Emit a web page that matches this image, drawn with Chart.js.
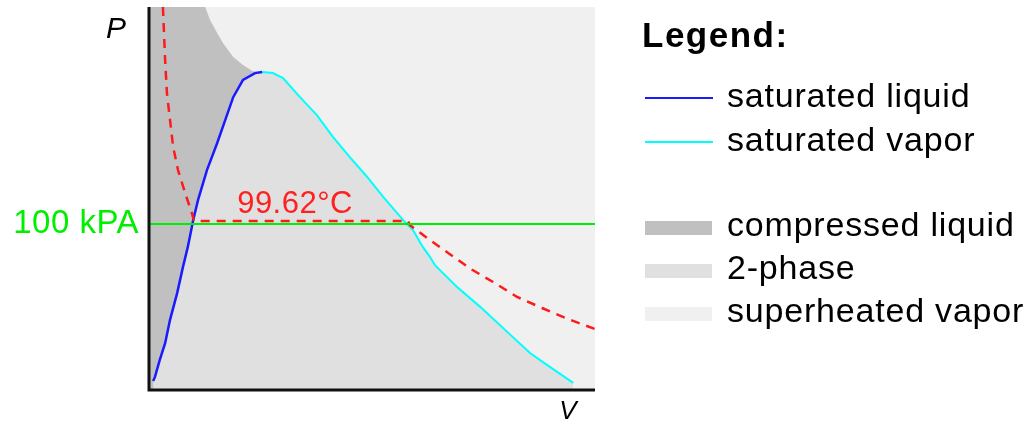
<!DOCTYPE html>
<html>
<head>
<meta charset="utf-8">
<script src="https://cdn.jsdelivr.net/npm/chart.js@4"></script>
<style>
  html, body { margin: 0; padding: 0; background: #ffffff; }
  canvas { display: block; }
</style>
</head>
<body>
<canvas id="pv-chart" width="1035" height="425"></canvas>
<script>
// P-v diagram of water, axes in relative units (0..100)
const liquidV = [0.7, 1.1, 2.2, 3.4, 4.5, 6.1, 7.4, 8.5, 9.4, 9.7, 10.8, 12.8, 15.1, 16.9, 18.7, 20.9, 23.6, 25.2];
const liquidP = [2.1, 3.1, 7.6, 12.0, 18.1, 25.1, 31.9, 37.2, 42.4, 44.2, 49.5, 57.3, 64.4, 70.4, 76.4, 80.9, 82.7, 83.0];

const vaporV = [25.2, 27.6, 29.9, 33.7, 37.5, 41.1, 44.9, 48.8, 52.4, 55.5, 57.3, 59.1, 61.3, 62.9, 64.0, 65.6, 69.0, 74.2, 79.3, 85.4, 89.2, 95.1];
const vaporP = [83.0, 82.7, 81.4, 76.4, 71.7, 66.0, 60.7, 55.5, 50.3, 46.1, 43.7, 41.6, 37.2, 34.6, 32.5, 30.6, 26.7, 21.5, 16.0, 9.4, 6.3, 1.6];

// upper edge of the compressed liquid region
const compressedV = [0, 12.4, 13.5, 15.1, 16.4, 18.7, 20.9, 23.1, 25.2];
const compressedP = [100, 100, 96.6, 93.2, 90.6, 86.9, 84.8, 83.2, 83.0];

// isotherm at 99.62 C
const isoV = [2.9, 3.4, 3.8, 4.5, 5.2, 6.3, 7.9, 9.4, 9.9, 58.0, 58.4, 62.9, 67.0, 72.4, 77.1, 82.5, 88.1, 93.3, 100];
const isoP = [100, 86.1, 77.5, 70.4, 63.4, 57.3, 51.3, 46.1, 44.0, 44.0, 42.9, 39.0, 35.6, 31.2, 28.0, 24.1, 21.2, 18.6, 15.7];

const pressureV = [0, 100];
const pressureP = [43.2, 43.2];

const isoLabel = "99.62°C";
const pressureLabel = "100 kPA";

const legendLines = [
  { label: "saturated liquid", color: "#1a1aff" },
  { label: "saturated vapor", color: "#00ffff" }
];
const legendAreas = [
  { label: "compressed liquid", color: "#c0c0c0" },
  { label: "2-phase", color: "#e0e0e0" },
  { label: "superheated vapor", color: "#f0f0f0" }
];

function toPoints(xs, ys) {
  return xs.map(function (x, i) { return { x: x, y: ys[i] }; });
}

const FONT = '"Liberation Sans", Arial, sans-serif';

const backgroundPlugin = {
  id: "plotBackground",
  beforeDraw: function (chart) {
    const ctx = chart.ctx;
    const a = chart.chartArea;
    ctx.save();
    ctx.fillStyle = "#ffffff";
    ctx.fillRect(0, 0, chart.width, chart.height);
    ctx.fillStyle = "#f0f0f0";
    ctx.fillRect(a.left, a.top, a.right - a.left, a.bottom - a.top);
    ctx.restore();
  }
};

const decorPlugin = {
  id: "decor",
  afterDraw: function (chart) {
    const ctx = chart.ctx;
    const a = chart.chartArea;
    const xs = chart.scales.x;
    const ys = chart.scales.y;
    ctx.save();

    // axes
    ctx.strokeStyle = "#111111";
    ctx.lineWidth = 3;
    ctx.beginPath();
    ctx.moveTo(a.left - 1, a.top);
    ctx.lineTo(a.left - 1, a.bottom + 1);
    ctx.lineTo(a.right, a.bottom + 1);
    ctx.stroke();

    // axis names
    ctx.fillStyle = "#000000";
    ctx.font = "italic 30px " + FONT;
    ctx.textAlign = "center";
    ctx.textBaseline = "middle";
    ctx.fillText("P", 116, 30);
    ctx.font = "italic 26px " + FONT;
    ctx.fillText("V", 568, 412);

    // pressure label
    ctx.fillStyle = "#00ee00";
    ctx.font = "33px " + FONT;
    ctx.letterSpacing = "0.5px";
    ctx.textAlign = "right";
    ctx.textBaseline = "alphabetic";
    ctx.fillText(pressureLabel, 139, ys.getPixelForValue(pressureP[0]) + 9);

    // isotherm label
    ctx.fillStyle = "#ff2020";
    ctx.font = "31px " + FONT;
    ctx.textAlign = "center";
    ctx.fillText(isoLabel, xs.getPixelForValue(32.6), ys.getPixelForValue(46.1));

    // legend
    ctx.fillStyle = "#000000";
    ctx.textAlign = "left";
    ctx.font = "bold 35px " + FONT;
    ctx.letterSpacing = "1.5px";
    ctx.fillText("Legend:", 642, 47);

    ctx.font = "34px " + FONT;
    ctx.letterSpacing = "0.8px";
    ctx.textBaseline = "middle";
    legendLines.forEach(function (item, i) {
      const y = 98 + i * 44;
      ctx.strokeStyle = item.color;
      ctx.lineWidth = 2;
      ctx.beginPath();
      ctx.moveTo(645, y);
      ctx.lineTo(713, y);
      ctx.stroke();
      ctx.fillStyle = "#000000";
      ctx.fillText(item.label, 727, y);
    });
    legendAreas.forEach(function (item, i) {
      const y = 228 + i * 43;
      ctx.fillStyle = item.color;
      ctx.fillRect(645, y - 7, 67, 14);
      ctx.fillStyle = "#000000";
      ctx.fillText(item.label, 727, y - 1);
    });

    ctx.restore();
  }
};

const config = {
  type: "line",
  data: {
    datasets: [
      {
        label: "pressure",
        data: toPoints(pressureV, pressureP),
        borderColor: "#00ee00",
        borderWidth: 2,
        fill: false,
        order: 0
      },
      {
        label: "isotherm",
        data: toPoints(isoV, isoP),
        borderColor: "#ff1a1a",
        borderWidth: 2.5,
        borderDash: [9, 7],
        fill: false,
        order: 1
      },
      {
        label: "saturated liquid",
        data: toPoints(liquidV, liquidP),
        borderColor: "#1a1aff",
        borderWidth: 2.5,
        fill: false,
        order: 2
      },
      {
        label: "saturated vapor",
        data: toPoints(vaporV, vaporP),
        borderColor: "#00ffff",
        borderWidth: 2,
        fill: false,
        order: 3
      },
      {
        label: "2-phase",
        data: toPoints(liquidV.concat(vaporV), liquidP.concat(vaporP)),
        borderWidth: 0,
        borderColor: "rgba(0,0,0,0)",
        backgroundColor: "#e0e0e0",
        fill: "origin",
        order: 4
      },
      {
        label: "compressed liquid",
        data: toPoints(compressedV, compressedP),
        borderWidth: 0,
        borderColor: "rgba(0,0,0,0)",
        backgroundColor: "#c0c0c0",
        fill: "origin",
        order: 5
      }
    ]
  },
  options: {
    responsive: false,
    animation: false,
    devicePixelRatio: 1,
    layout: {
      padding: { left: 150, right: 440, top: 7, bottom: 36 }
    },
    elements: {
      point: { radius: 0, hoverRadius: 0 },
      line: { tension: 0 }
    },
    plugins: {
      legend: { display: false },
      tooltip: { enabled: false }
    },
    scales: {
      x: { type: "linear", min: 0, max: 100, display: false },
      y: { type: "linear", min: 0, max: 100, display: false }
    }
  },
  plugins: [backgroundPlugin, decorPlugin]
};

new Chart(document.getElementById("pv-chart"), config);
</script>
</body>
</html>
